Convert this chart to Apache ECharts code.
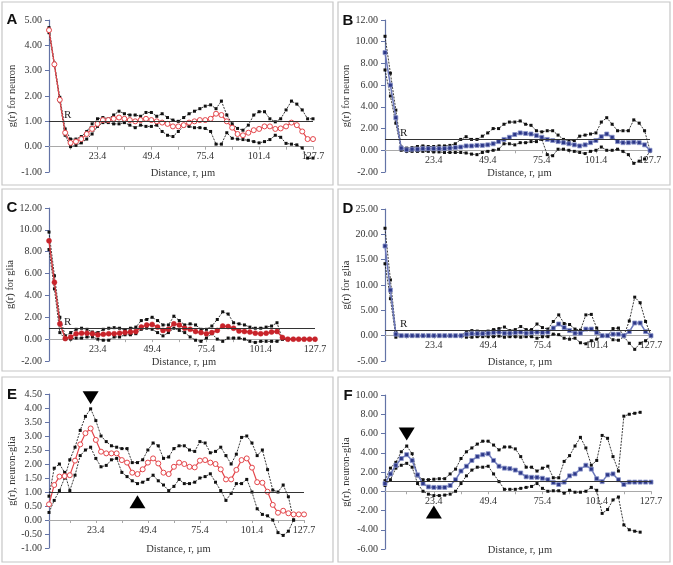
<!DOCTYPE html>
<html>
<head>
<meta charset="utf-8">
<script src="https://cdn.jsdelivr.net/npm/echarts@6/dist/echarts.min.js"></script>
<style>
html, body { margin: 0; padding: 0; background: #fff; }
#main { width: 673px; height: 565px; }
</style>
</head>
<body>
<div id="main"></div>
<script>
// distance bins (µm); only some of them get a label
var distance = ["0.0","2.6","5.2","7.8","10.4","13.0","15.6","18.2","20.8","23.4",
  "26.0","28.6","31.2","33.8","36.4","39.0","41.6","44.2","46.8","49.4",
  "52.0","54.6","57.2","59.8","62.4","65.0","67.6","70.2","72.8","75.4",
  "78.0","80.6","83.2","85.8","88.4","91.0","93.6","96.2","98.8","101.4",
  "104.0","106.6","109.2","111.8","114.4","117.0","119.6","122.2","124.8","127.7"];
var shownLabels = ["23.4", "49.4", "75.4", "101.4", "127.7"];

// A: g(r) for neuron
var aMid = [4.6,3.25,1.85,0.55,0.15,0.2,0.3,0.5,0.7,0.9,1.05,1.05,1.1,1.15,1.1,1.05,1.0,1.05,1.1,1.05,
  1.0,0.95,0.9,0.8,0.8,0.85,0.95,1.0,1.05,1.05,1.1,1.3,1.25,1.0,0.75,0.5,0.45,0.55,0.65,0.7,
  0.8,0.8,0.7,0.72,0.8,0.95,0.85,0.6,0.3,0.3];
var aHigh = [4.7,3.3,1.95,0.7,0.3,0.3,0.4,0.6,0.9,1.1,1.15,1.1,1.25,1.4,1.3,1.25,1.25,1.2,1.35,1.35,
  1.2,1.3,1.15,1.05,1.0,1.15,1.3,1.4,1.5,1.6,1.65,1.5,1.8,1.25,0.9,0.72,0.65,0.85,1.25,1.38,
  1.38,1.1,0.98,1.1,1.45,1.8,1.68,1.45,1.1,1.1];
var aLow = [4.5,3.2,1.8,0.45,0.0,0.05,0.15,0.3,0.5,0.8,0.95,0.95,0.9,0.9,0.95,0.85,0.75,0.85,0.8,0.8,
  0.85,0.6,0.45,0.4,0.6,0.8,0.8,0.75,0.75,0.72,0.6,0.1,0.1,0.55,0.33,0.3,0.28,0.25,0.2,0.15,
  0.2,0.28,0.45,0.37,0.13,0.1,0.07,-0.05,-0.45,-0.45];

// B: g(r) for neuron
var bMid = [9.0,6.0,3.0,0.2,0.05,0.1,0.1,0.15,0.15,0.15,0.15,0.15,0.2,0.25,0.3,0.4,0.4,0.45,0.45,0.5,
  0.6,0.8,1.0,1.2,1.45,1.6,1.55,1.5,1.35,1.2,1.0,0.9,0.8,0.7,0.6,0.5,0.4,0.5,0.7,0.9,
  1.25,1.5,1.2,0.8,0.7,0.7,0.75,0.7,0.5,0.0];
var bHigh = [10.5,7.1,3.7,0.3,0.2,0.25,0.35,0.4,0.35,0.35,0.4,0.4,0.45,0.6,1.0,1.25,1.0,1.0,1.3,1.6,
  2.0,2.0,2.4,2.6,2.6,2.7,2.4,2.3,1.8,1.7,1.8,1.8,1.4,1.0,0.9,0.9,1.3,1.4,1.5,1.6,
  2.6,3.0,2.4,1.8,1.8,1.8,2.8,2.5,1.8,0.0];
var bLow = [7.4,5.0,2.5,0.0,-0.1,-0.1,-0.1,-0.1,-0.1,-0.15,-0.15,-0.2,-0.2,-0.2,-0.2,-0.25,-0.35,-0.4,-0.2,-0.1,
  0.0,0.1,0.6,0.6,0.5,0.7,0.7,0.8,0.8,1.0,-0.4,-0.5,0.1,0.1,0.0,-0.1,-0.2,-0.3,-0.1,0.0,
  0.3,0.0,0.0,0.1,-0.1,-0.4,-1.2,-1.0,-0.8,-0.1];

// C: g(r) for glia
var cMid = [9.0,5.2,1.4,0.05,0.2,0.5,0.55,0.55,0.5,0.4,0.45,0.5,0.5,0.55,0.6,0.65,0.7,1.1,1.3,1.35,
  1.1,0.8,0.9,1.4,1.3,1.0,0.9,0.7,0.6,0.5,0.6,0.8,1.2,1.15,1.0,0.75,0.7,0.65,0.55,0.5,
  0.55,0.65,0.7,0.15,0.0,0.0,0.0,0.0,0.0,0.0];
var cHigh = [9.8,5.8,2.0,0.3,0.6,0.9,1.0,0.9,0.65,0.6,0.9,1.0,1.05,1.0,0.8,1.0,1.1,1.7,1.8,2.0,
  1.7,1.3,1.3,2.1,1.7,1.3,1.4,1.3,0.9,0.9,1.2,1.8,2.5,2.3,1.5,1.4,1.3,1.1,1.0,1.0,
  1.1,1.2,1.5,0.0,0.0,0.0,0.0,0.0,0.0,0.0];
var cLow = [8.2,4.6,0.6,0.0,0.0,0.1,0.1,0.2,0.2,0.0,-0.1,-0.1,0.2,0.2,0.4,0.4,0.5,0.9,1.0,0.9,
  0.6,0.3,0.6,1.0,0.8,0.6,0.2,-0.1,-0.2,0.1,0.5,0.0,-0.2,0.1,0.1,0.1,0.0,-0.2,-0.3,-0.2,
  -0.2,-0.2,-0.2,0.0,0.0,0.0,0.0,0.0,0.0,0.0];

// D: g(r) for glia
var dMid = [17.7,9.0,0.3,0,0,0,0,0,0,0,0,0,0,0,0,0.3,0.4,0.4,0.4,0.5,
  0.6,0.7,0.5,0.5,0.6,0.7,0.5,0.6,0.7,0.6,0.7,1.5,2.3,1.6,1.0,0.5,0.5,1.3,1.3,0.6,
  0.0,0.0,0.3,0.3,0.0,0.8,2.5,2.5,0.8,0.0];
var dHigh = [21.2,11.0,0.7,0.05,0.05,0.05,0.05,0.05,0.05,0.05,0.05,0.05,0.05,0.05,0.05,0.7,1.0,0.9,0.8,0.9,
  1.2,1.4,1.7,1.0,1.2,1.8,1.2,1.2,2.3,1.6,1.3,2.8,4.1,2.4,2.2,1.3,1.1,4.1,4.2,1.5,
  0.0,0.0,1.4,1.5,0.0,2.9,7.6,6.5,2.8,0.0];
var dLow = [14.2,7.3,-0.3,-0.1,-0.1,-0.1,-0.1,-0.1,-0.1,-0.1,-0.1,-0.1,-0.1,-0.1,-0.1,-0.3,-0.3,-0.2,-0.2,-0.2,
  -0.2,-0.1,-0.3,-0.2,-0.2,-0.3,-0.2,-0.2,-0.5,-0.2,-0.2,0.3,0.2,-0.5,-0.7,-0.5,-1.4,-1.6,-1.0,-0.7,
  -0.1,-0.1,-0.8,-0.9,-0.2,-1.5,-2.7,-1.5,-1.0,-0.1];

// E: g(r), neuron-glia
var eMid = [0.56,1.25,1.55,1.57,1.6,2.12,2.7,3.1,3.27,2.86,2.44,2.38,2.38,2.38,2.14,2.05,1.69,1.64,1.81,2.05,
  2.2,2.02,1.69,1.64,1.9,2.05,2.0,1.9,1.88,2.12,2.14,2.05,2.0,1.81,1.45,1.45,1.79,2.14,2.2,1.87,
  1.35,1.33,1.01,0.54,0.26,0.33,0.24,0.2,0.2,0.2];
var eHigh = [0.27,0.7,1.05,1.5,2.15,2.6,3.2,3.7,3.97,3.55,3.0,2.8,2.65,2.6,2.55,2.55,2.05,2.05,2.15,2.5,
  2.75,2.65,2.2,2.25,2.55,2.65,2.65,2.5,2.45,2.8,2.75,2.4,2.45,2.6,2.3,2.0,2.35,2.95,3.0,2.75,
  2.3,2.5,1.8,1.07,1.0,1.25,0.83,0.0,null,null];
var eLow = [0.85,1.85,2.0,1.7,1.05,1.6,2.3,2.5,2.6,2.2,1.9,1.95,2.15,2.2,1.7,1.55,1.4,1.3,1.35,1.45,
  1.6,1.4,1.25,1.05,1.2,1.45,1.3,1.3,1.35,1.5,1.55,1.65,1.35,1.05,0.7,0.95,1.3,1.3,1.45,1.0,
  0.4,0.2,0.15,0.0,-0.45,-0.55,-0.4,0.0,null,null];
var eArrows = [[8, 4.37, "down"], [17, 0.65, "up"]];

// F: g(r), neuron-glia
var fMid = [0.8,1.8,2.7,3.4,3.8,3.2,1.7,0.8,0.45,0.4,0.4,0.4,0.6,1.2,2.1,2.6,3.2,3.6,3.8,3.9,
  3.2,2.6,2.4,2.35,2.2,1.9,1.5,1.45,1.45,1.35,1.2,0.9,0.7,0.95,1.6,1.8,2.3,2.7,2.3,1.3,
  1.0,1.7,1.8,1.2,0.7,0.95,0.95,0.95,0.95,0.95];
var fHigh = [1.1,2.4,3.0,4.1,4.7,3.9,1.6,1.2,1.2,1.25,1.3,1.3,1.8,2.3,3.4,4.1,4.5,4.9,5.2,5.2,
  4.8,4.3,4.6,4.6,4.4,3.6,2.5,2.5,2.1,2.4,2.6,1.4,1.4,3.1,3.7,4.7,5.6,4.5,2.7,3.2,
  5.8,5.5,3.6,2.1,7.8,8.0,8.1,8.2,null,null];
var fLow = [0.6,1.2,2.4,2.7,2.9,2.5,0.8,0.0,-0.3,-0.45,-0.45,-0.4,-0.3,0.0,0.8,1.6,2.2,2.5,2.5,2.6,
  1.8,1.0,0.2,0.2,0.2,0.3,0.4,0.5,0.8,0.3,0.0,0.05,0.05,-0.2,0.1,-0.1,-0.1,0.0,0.4,0.1,
  -2.3,-1.9,-0.9,-0.6,-3.5,-4.0,-4.15,-4.25,null,null];
var fArrows = [[4, 5.95, "down"], [9, -2.15, "up"]];

var serif = "Liberation Serif, Times New Roman, serif";

var panels = [
  { letter: "A", name: "g(r) for neuron", mid: aMid, hi: aHigh, lo: aLow, look: "redOpen", rLabel: true,
    min: -1, max: 5, step: 1, grid: [49, 20, 264, 152], box: [2, 2, 331, 183], letterAt: [12, 20] },
  { letter: "B", name: "g(r) for neuron", mid: bMid, hi: bHigh, lo: bLow, look: "blue", rLabel: true,
    min: -2, max: 12, step: 2, grid: [385, 20, 265, 152], box: [338, 2, 332, 183], letterAt: [348, 21] },
  { letter: "C", name: "g(r) for glia", mid: cMid, hi: cHigh, lo: cLow, look: "redFull", rLabel: true,
    min: -2, max: 12, step: 2, grid: [49, 208, 266, 153], box: [2, 189, 331, 182], letterAt: [12, 208] },
  { letter: "D", name: "g(r) for glia", mid: dMid, hi: dHigh, lo: dLow, look: "blue", rLabel: true,
    min: -5, max: 25, step: 5, grid: [385, 209, 266, 152], box: [338, 189, 332, 182], letterAt: [348, 209] },
  { letter: "E", name: "g(r), neuron-glia", mid: eMid, hi: eHigh, lo: eLow, look: "redOpen", rLabel: false, arrows: eArrows,
    min: -1, max: 4.5, step: 0.5, grid: [49, 394, 255, 154], box: [2, 377, 331, 185], letterAt: [12, 395] },
  { letter: "F", name: "g(r), neuron-glia", mid: fMid, hi: fHigh, lo: fLow, look: "blue", rLabel: false, arrows: fArrows,
    min: -6, max: 10, step: 2, grid: [385, 395, 266, 154], box: [338, 377, 332, 185], letterAt: [348, 396] }
];

var looks = {
  redOpen: { symbol: "circle", size: 5, item: { color: "#ffffff", borderColor: "#e4464b", borderWidth: 1 },
             line: { color: "#e4464b", width: 1.2 } },
  redFull: { symbol: "circle", size: 5, item: { color: "#c8232a", borderColor: "#c8232a", borderWidth: 0.5 },
             line: { color: "#d43a3f", width: 1.4 } },
  blue: { symbol: "rect", size: 4, item: { color: "#2d3888", borderColor: "#8d97cc", borderWidth: 0.8 },
          line: { color: "#6b77ba", width: 1.5 } }
};

var grids = [], xAxes = [], yAxes = [], series = [], graphics = [];

panels.forEach(function (p, k) {
  grids.push({ left: p.grid[0], top: p.grid[1], width: p.grid[2], height: p.grid[3] });

  // the x axis (line + labels) sits on the zero level, like the original
  var zeroUp = (0 - p.min) / (p.max - p.min) * p.grid[3];
  xAxes.push({
    type: "category", gridIndex: k, data: distance, boundaryGap: false,
    position: "bottom", offset: -zeroUp,
    axisLine: { onZero: false, lineStyle: { color: "#a9a9a9", width: 1 } },
    axisTick: { show: true, length: 3, interval: function (i) { return i % 5 === 4; },
                lineStyle: { color: "#a9a9a9" } },
    axisLabel: { interval: function (i, v) { return shownLabels.indexOf(v) >= 0; },
                 margin: 5, fontFamily: serif, fontSize: 10, color: "#333" },
    splitLine: { show: false }
  });

  yAxes.push({
    type: "value", gridIndex: k, min: p.min, max: p.max, interval: p.step,
    name: p.name, nameLocation: "middle", nameGap: 27, nameRotate: 90,
    nameTextStyle: { fontFamily: serif, fontSize: 10.5, color: "#333" },
    axisLine: { show: true, lineStyle: { color: "#6373a6", width: 1.2 } },
    axisTick: { show: true, length: 4, lineStyle: { color: "#6373a6" } },
    axisLabel: { formatter: function (v) { return v.toFixed(2); }, margin: 7,
                 fontFamily: serif, fontSize: 10, color: "#333" },
    splitLine: { show: false }
  });

  [p.lo, p.hi].forEach(function (d) {
    series.push({
      type: "line", xAxisIndex: k, yAxisIndex: k, data: d, silent: true,
      symbol: "rect", symbolSize: 3, showSymbol: true, showAllSymbol: true,
      itemStyle: { color: "#111" },
      lineStyle: { color: "#222", width: 0.9, type: [2, 1.2] },
      z: 2
    });
  });

  var lk = looks[p.look];
  var mid = {
    type: "line", xAxisIndex: k, yAxisIndex: k, data: p.mid, silent: true,
    symbol: lk.symbol, symbolSize: lk.size, showSymbol: true, showAllSymbol: true,
    itemStyle: lk.item, lineStyle: lk.line, z: 3,
    markLine: {
      silent: true, symbol: ["none", "none"], animation: false,
      lineStyle: { color: "#333", width: 1, type: "solid" },
      label: { show: p.rLabel, formatter: "R", position: "insideStartTop", distance: [15, 1],
               fontFamily: serif, fontSize: 11, color: "#222" },
      data: [{ yAxis: 1 }]
    }
  };
  if (p.arrows) {
    mid.markPoint = {
      silent: true, animation: false,
      data: p.arrows.map(function (a) {
        return { coord: [a[0], a[1]], symbol: "triangle", symbolSize: [16, 13],
                 symbolRotate: a[2] === "down" ? 180 : 0,
                 itemStyle: { color: "#000" }, label: { show: false } };
      })
    };
  }
  series.push(mid);

  graphics.push({
    type: "rect", silent: true, z: 0,
    shape: { x: p.box[0], y: p.box[1], width: p.box[2], height: p.box[3] },
    style: { fill: "none", stroke: "#c6c6c6", lineWidth: 1.2 }
  });
  graphics.push({
    type: "text", x: p.letterAt[0], y: p.letterAt[1], silent: true,
    style: { text: p.letter, font: "bold 15px Liberation Sans, Arial, sans-serif", fill: "#111",
             align: "center", verticalAlign: "middle", textAlign: "center", textVerticalAlign: "middle" }
  });
  graphics.push({
    type: "text", x: p.grid[0] + p.grid[2] / 2 + 2, y: p.grid[1] + p.grid[3] + 1, silent: true,
    style: { text: "Distance, r, \u00b5m", font: "10.5px " + serif, fill: "#333",
             align: "center", verticalAlign: "middle", textAlign: "center", textVerticalAlign: "middle" }
  });
});

var chart = echarts.init(document.getElementById("main"));
chart.setOption({
  animation: false,
  backgroundColor: "#ffffff",
  grid: grids,
  xAxis: xAxes,
  yAxis: yAxes,
  series: series,
  graphic: graphics
});
</script>
</body>
</html>
